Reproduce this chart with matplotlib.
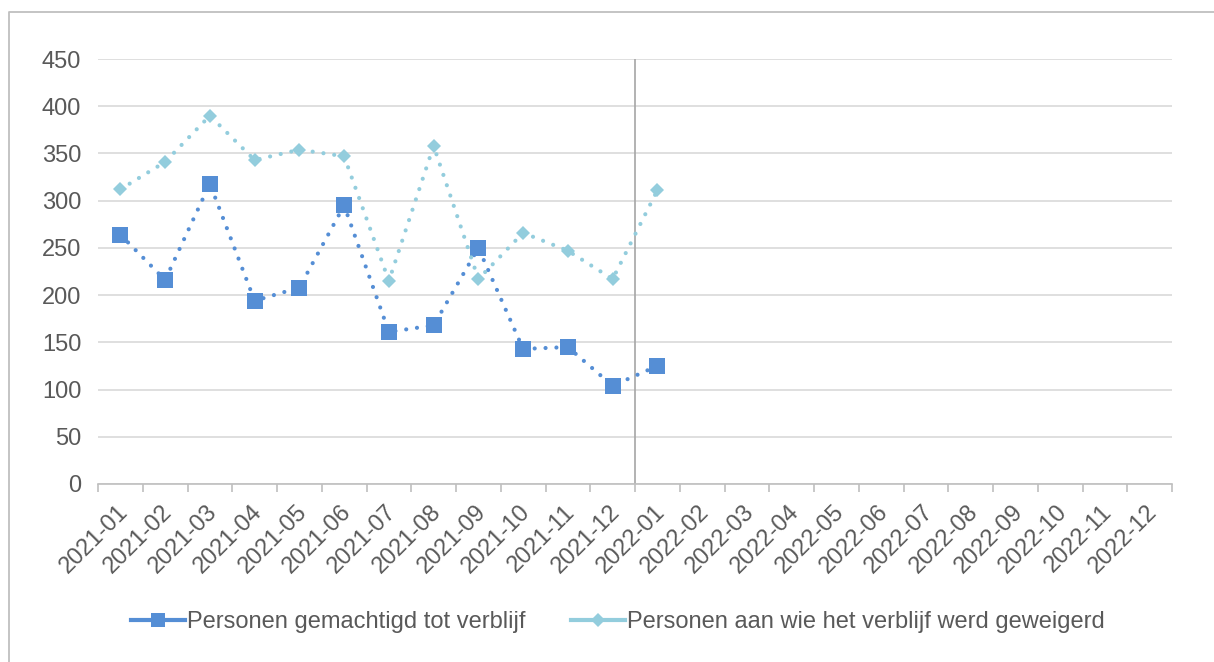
import matplotlib
matplotlib.use('Agg')
import matplotlib.pyplot as plt
import matplotlib.lines as mlines
import matplotlib.transforms as mtransforms
import numpy as np

plt.rcParams['font.family'] = ['Liberation Sans', 'DejaVu Sans']

months = ['2021-01', '2021-02', '2021-03', '2021-04', '2021-05', '2021-06',
          '2021-07', '2021-08', '2021-09', '2021-10', '2021-11', '2021-12',
          '2022-01', '2022-02', '2022-03', '2022-04', '2022-05', '2022-06',
          '2022-07', '2022-08', '2022-09', '2022-10', '2022-11', '2022-12']
gemachtigd = [264, 216, 318, 194, 208, 295, 161, 168, 250, 143, 145, 104, 125]
geweigerd = [312, 341, 390, 343, 354, 347, 215, 358, 217, 266, 247, 217, 311]
label_gemachtigd = 'Personen gemachtigd tot verblijf'
label_geweigerd = 'Personen aan wie het verblijf werd geweigerd'

dark = '#558ED5'
light = '#93CDDD'
txt = '#595959'

fig = plt.figure(figsize=(12.14, 6.62), dpi=100)
ax = fig.add_axes([98 / 1214, 1 - 484 / 662, (1172 - 98) / 1214, (484 - 59) / 662])

x = np.arange(len(months))
dots = (0, (0.01, 2.6))
ax.plot(x[:len(gemachtigd)], gemachtigd, color=dark, lw=3, linestyle=dots,
        dash_capstyle='round', marker='s', markersize=11, markeredgewidth=0, zorder=3)
ax.plot(x[:len(geweigerd)], geweigerd, color=light, lw=3, linestyle=dots,
        dash_capstyle='round', marker='D', markersize=7.6, markeredgewidth=0, zorder=3)

ax.set_xlim(-0.5, len(months) - 0.5)
ax.set_ylim(0, 450)
ax.set_yticks(range(0, 451, 50))
ax.grid(axis='y', color='#D9D9D9', lw=1.2)
ax.set_axisbelow(True)
ax.axvline(11.5, color='#A6A6A6', lw=1.2, zorder=1)

for s in ['top', 'right', 'left']:
    ax.spines[s].set_visible(False)
ax.spines['bottom'].set_color('#BFBFBF')
ax.spines['bottom'].set_linewidth(1.2)

ax.set_xticks(np.arange(-0.5, len(months)), minor=True)
ax.set_xticks(x)
ax.set_xticklabels(months, rotation=45, ha='right', va='center', rotation_mode='anchor')
ax.tick_params(axis='x', which='major', length=0, pad=18, labelsize=17, labelcolor=txt)
ax.tick_params(axis='x', which='minor', length=6, color='#BFBFBF', width=1.2)
ax.tick_params(axis='y', length=0, pad=12, labelsize=17, labelcolor=txt)
shift = mtransforms.ScaledTranslation(4 / 100, 0, fig.dpi_scale_trans)
for t in ax.get_xticklabels():
    t.set_transform(t.get_transform() + shift)

h1 = mlines.Line2D([], [], color=dark, lw=3, marker='s', markersize=10.5, markeredgewidth=0)
h2 = mlines.Line2D([], [], color=light, lw=3, marker='D', markersize=6.8, markeredgewidth=0)
leg = fig.legend([h1, h2], [label_gemachtigd, label_geweigerd], loc='center',
                 bbox_to_anchor=(618 / 1214, 1 - 622 / 662), ncol=2, frameon=False,
                 fontsize=17, handlelength=2.3, handletextpad=0.1, columnspacing=1.9)
for t in leg.get_texts():
    t.set_color(txt)

# chart border (only top and left visible in the crop)
fig.add_artist(mlines.Line2D([9 / 1214, 9 / 1214, 1.01], [-0.01, 1 - 12 / 662, 1 - 12 / 662],
                             transform=fig.transFigure, color='#BFBFBF', lw=1.3))

fig.savefig('out.png', dpi=100)
